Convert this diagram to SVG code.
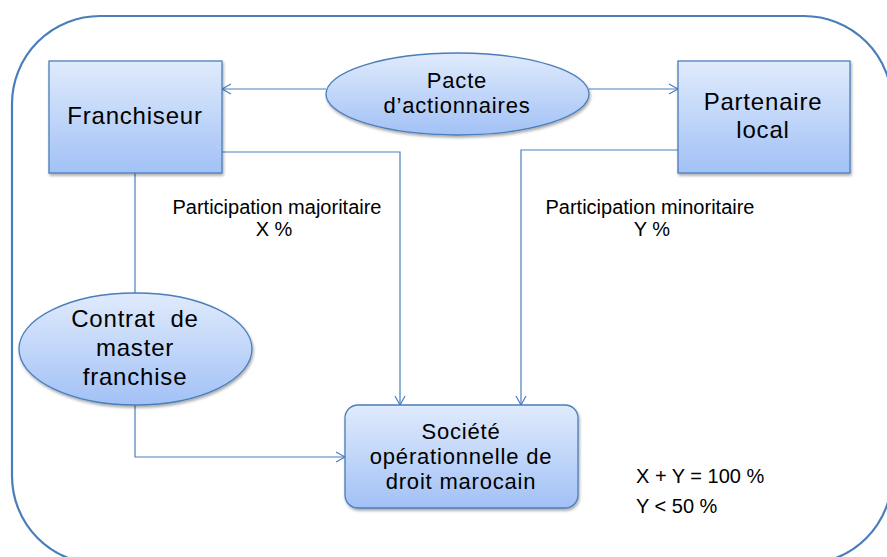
<svg xmlns="http://www.w3.org/2000/svg" width="887" height="557" viewBox="0 0 887 557">
<defs>
<linearGradient id="g" x1="0" y1="0" x2="0" y2="1">
<stop offset="0" stop-color="#e0ebfc"/>
<stop offset="1" stop-color="#a2c1f6"/>
</linearGradient>
<filter id="sh" x="-10%" y="-10%" width="130%" height="130%">
<feGaussianBlur in="SourceAlpha" stdDeviation="1.5"/>
<feOffset dx="1" dy="2" result="b"/>
<feComponentTransfer><feFuncA type="linear" slope="0.35"/></feComponentTransfer>
<feMerge><feMergeNode/><feMergeNode in="SourceGraphic"/></feMerge>
</filter>
<marker id="ar" markerWidth="12" markerHeight="12" refX="10" refY="6" orient="auto" markerUnits="userSpaceOnUse">
<path d="M1,1 L10,6 L1,11" fill="none" stroke="#4a7ebb" stroke-width="1.2"/>
</marker>
</defs>
<style>
.shape{fill:url(#g);stroke:#4a7ebb;stroke-width:1.3;filter:url(#sh)}
.t{font-family:"Liberation Sans",Arial,sans-serif;fill:#000;text-anchor:middle}
.big{font-size:24px;letter-spacing:0.8px}
.mid{font-size:22px;letter-spacing:0.8px}
.lab{font-size:20px}
.c{fill:none;stroke:#4a7ebb;stroke-width:1.2}
</style>
<rect x="12" y="16" width="880" height="548" rx="88" ry="88" fill="none" stroke="#4a7ebb" stroke-width="2.2"/>
<g id="connectors">
<path class="c" d="M326,89 H222" marker-end="url(#ar)"/>
<path class="c" d="M589,89 H678" marker-end="url(#ar)"/>
<path class="c" d="M222,152 H400 V405" marker-end="url(#ar)"/>
<path class="c" d="M678,150 H521 V405" marker-end="url(#ar)"/>
<path class="c" d="M135,173 V293"/>
<path class="c" d="M135,405 V457 H345" marker-end="url(#ar)"/>
</g>
<g id="franchiseur">
<rect class="shape" x="49" y="61" width="173" height="112"/>
<text class="t big" x="135" y="124">Franchiseur</text>
</g>
<g id="partenaire">
<rect class="shape" x="678" y="61" width="172" height="112"/>
<text class="t big" x="763" y="110">Partenaire</text>
<text class="t big" x="763" y="138">local</text>
</g>
<g id="pacte">
<ellipse class="shape" cx="457.5" cy="94" rx="131.5" ry="41"/>
<text class="t mid" x="457" y="88">Pacte</text>
<text class="t mid" x="457" y="113">d’actionnaires</text>
</g>
<g id="contrat">
<ellipse class="shape" cx="135.5" cy="349" rx="116.5" ry="56"/>
<text class="t big" x="135" y="327">Contrat&#160; de</text>
<text class="t big" x="135" y="356">master</text>
<text class="t big" x="135" y="385">franchise</text>
</g>
<g id="societe">
<rect class="shape" x="345" y="405" width="233" height="103" rx="13" ry="13"/>
<text class="t mid" x="461" y="439">Société</text>
<text class="t mid" x="461" y="464">opérationnelle de</text>
<text class="t mid" x="461" y="489">droit marocain</text>
</g>
<g id="labels">
<text class="t lab" x="277" y="214">Participation majoritaire</text>
<text class="t lab" x="274" y="236">X %</text>
<text class="t lab" x="650" y="214">Participation minoritaire</text>
<text class="t lab" x="652" y="236">Y %</text>
<text class="t lab" x="636" y="483" style="text-anchor:start">X + Y = 100 %</text>
<text class="t lab" x="636" y="513" style="text-anchor:start">Y &lt; 50 %</text>
</g>
</svg>
